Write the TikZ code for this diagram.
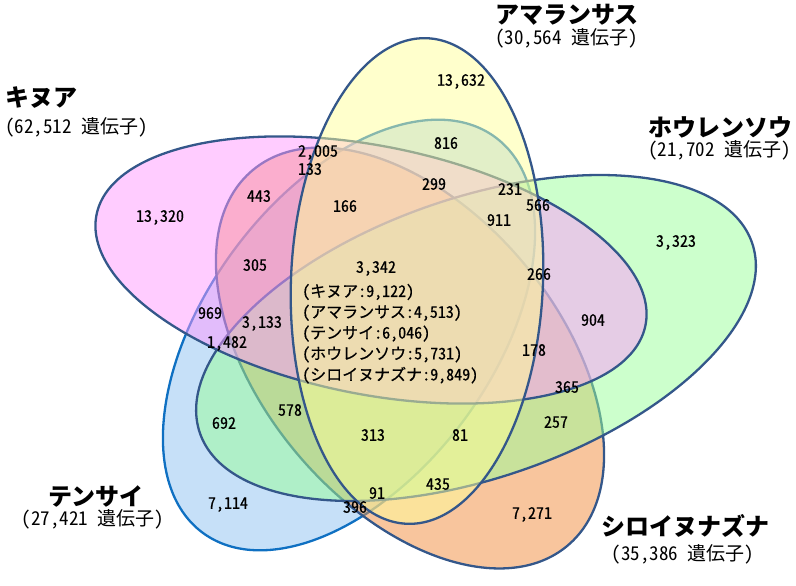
\documentclass[tikz,border=0pt]{standalone}
\usepackage{fontspec}
\setmainfont{Noto Sans CJK JP}
\newfontfamily\numfont{Noto Sans CJK JP}[RawFeature=+hwid, FakeBold=0.5]
\newfontfamily\totalfont{Noto Sans CJK JP}[RawFeature=+hwid]
\usetikzlibrary{positioning}
\definecolor{kinuafill}{HTML}{FF99FF}
\definecolor{amafill}{HTML}{FFFF99}
\definecolor{hourenfill}{HTML}{99FF99}
\definecolor{tensaifill}{HTML}{8EC2F2}
\definecolor{shiroifill}{HTML}{F28C3C}
\definecolor{vennedge}{HTML}{34578A}
\definecolor{tensaiedge}{HTML}{0F70C2}

\begin{document}
\begin{tikzpicture}[
  x=1pt, y=-1pt,
  every node/.style={inner sep=0pt},
  geneset/.style={line width=2.3pt, draw=vennedge, fill opacity=0.5},
  count/.style={font=\numfont\fontsize{16}{16}\selectfont, text height=11.5pt, text depth=0pt},
  core/.style={font=\numfont\fontsize{16}{16}\selectfont, anchor=west},
  species/.style={font=\bfseries\fontsize{24}{24}\selectfont},
  total/.style={font=\totalfont\fontsize{19}{19}\selectfont},
]
  \useasboundingbox (0,0) rectangle (796,586);

  % gene sets, in stacking order
  \filldraw[geneset, draw=tensaiedge, fill=tensaifill, rotate around={53.5:(349,335)}] (349,335) ellipse [x radius=246, y radius=143];
  \filldraw[geneset, fill=shiroifill, rotate around={-50:(410,358)}] (410,358) ellipse [x radius=245, y radius=148];
  \filldraw[geneset, fill=hourenfill, rotate around={19:(476,338)}] (476,338) ellipse [x radius=292, y radius=140];
  \filldraw[geneset, fill=kinuafill, rotate around={-11.4:(371,270)}] (371,270) ellipse [x radius=280, y radius=124];
  \filldraw[geneset, fill=amafill, rotate around={-2.4:(417,281)}] (417,281) ellipse [x radius=126, y radius=243];

  % species names
  \node[species, anchor=west] (kinua) at (5,98) {キヌア};
  \node[total, anchor=west] (kinuan) at (5,127) {(62,512 遺伝子)};
  \node[species, anchor=west] (ama) at (495,15) {アマランサス};
  \node[total, anchor=west] (aman) at (495,38) {(30,564 遺伝子)};
  \node[species, anchor=west] (houren) at (648,127) {ホウレンソウ};
  \node[total, anchor=west] (hourenn) at (648,150) {(21,702 遺伝子)};
  \node[species] (tensai) at (96,496) {テンサイ};
  \node[total] (tensain) at (93,519) {(27,421 遺伝子)};
  \node[species] (shiroi) at (685,526) {シロイヌナズナ};
  \node[total] (shiroin) at (683,554) {(35,386 遺伝子)};

  % region counts
  \node[count] (c13320) at (160,216) {13,320};
  \node[count] (c13632) at (461,80) {13,632};
  \node[count] (c3323) at (676,241) {3,323};
  \node[count] (c7114) at (228,503) {7,114};
  \node[count] (c7271) at (532,513) {7,271};
  \node[count] (c2005) at (318,151) {2,005};
  \node[count] (c133) at (310,169) {133};
  \node[count] (c443) at (259,196) {443};
  \node[count] (c166) at (345,206) {166};
  \node[count] (c816) at (446,143) {816};
  \node[count] (c299) at (434,184) {299};
  \node[count] (c231) at (510,189) {231};
  \node[count] (c566) at (538,205) {566};
  \node[count] (c911) at (499,220) {911};
  \node[count] (c305) at (255,265) {305};
  \node[count] (c266) at (539,274) {266};
  \node[count] (c969) at (210,313) {969};
  \node[count] (c3133) at (262,322) {3,133};
  \node[count] (c1482) at (227,342) {1,482};
  \node[count] (c904) at (593,320) {904};
  \node[count] (c178) at (534,350) {178};
  \node[count] (c365) at (567,387) {365};
  \node[count] (c257) at (556,422) {257};
  \node[count] (c692) at (224,423) {692};
  \node[count] (c578) at (290,410) {578};
  \node[count] (c313) at (373,435) {313};
  \node[count] (c81) at (460,435) {81};
  \node[count] (c435) at (438,484) {435};
  \node[count] (c91) at (377,493) {91};
  \node[count] (c396) at (355,507) {396};

  % shared by all five
  \node[count] (c3342) at (376,267) {3,342};
  \foreach \sp/\n [count=\i from 0] in {キヌア/{9,122}, アマランサス/{4,513}, テンサイ/{6,046}, ホウレンソウ/{5,731}, シロイヌナズナ/{9,849}}
    \node[core] (core\i) at (302,292+20.8*\i) {(\sp:\n)};
\end{tikzpicture}
\end{document}
